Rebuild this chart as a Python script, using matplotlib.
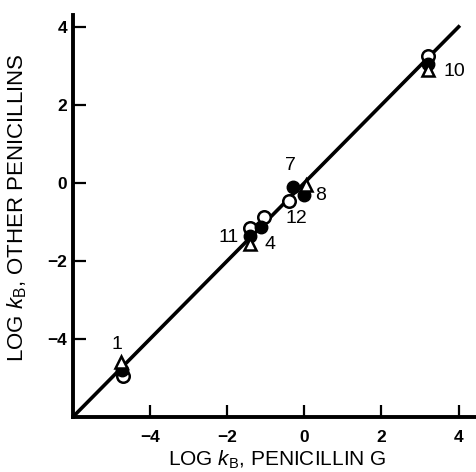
import matplotlib
matplotlib.use("Agg")
import matplotlib.pyplot as plt
import numpy as np

plt.rcParams['font.family'] = ['Liberation Sans', 'DejaVu Sans']
plt.rcParams['mathtext.fontset'] = 'custom'
plt.rcParams['mathtext.it'] = 'Liberation Sans:italic'
plt.rcParams['mathtext.rm'] = 'Liberation Sans'

# log kB values
open_x = [-4.7, -1.4, -1.05, -0.4, 3.2]
open_y = [-4.95, -1.15, -0.88, -0.47, 3.25]
filled_x = [-4.72, -1.42, -1.12, -0.3, 0.0, 3.2]
filled_y = [-4.8, -1.35, -1.12, -0.1, -0.32, 3.05]
tri_x = [-4.75, -1.42, 0.05, 3.2]
tri_y = [-4.6, -1.57, -0.05, 2.9]

# point numbers and where they are written
labels = ['1', '7', '8', '12', '11', '4', '10']
label_x = [-4.85, -0.36, 0.42, -0.2, -1.95, -0.9, 3.9]
label_y = [-4.15, 0.45, -0.33, -0.9, -1.4, -1.58, 2.85]

line_x = [-6, 4.0]

fig = plt.figure(figsize=(4.76, 4.72), dpi=100)
ax = fig.add_axes([0.153, 0.1165, 0.847, 0.8515])

ax.plot(line_x, line_x, color='black', lw=2.6, zorder=1)
ax.plot(open_x, open_y, 'o', mfc='white', mec='black', mew=1.8, ms=9, zorder=2)
ax.plot(filled_x, filled_y, 'o', mfc='black', mec='black', ms=9, zorder=3)
ax.plot(tri_x, tri_y, '^', mfc='white', mec='black', mew=1.8, ms=9, zorder=4)

for t, x, y in zip(labels, label_x, label_y):
    ax.text(x, y, t, fontsize=14, ha='center', va='center')

ax.set_xlim(-6, 4.45)
ax.set_ylim(-6, 4.3)
ax.set_xticks([-4, -2, 0, 2, 4])
ax.set_yticks([-4, -2, 0, 2, 4])
ax.set_xticklabels(['\u22124', '\u22122', '0', '2', '4'], fontsize=12.5, fontweight='bold')
ax.set_yticklabels(['\u22124', '\u22122', '0', '2', '4'], fontsize=12.5, fontweight='bold')
ax.tick_params(direction='in', length=9, width=1.6)
ax.tick_params(axis='x', pad=9)
ax.tick_params(axis='y', pad=4)

for s in ['top', 'right']:
    ax.spines[s].set_visible(False)
for s in ['left', 'bottom']:
    ax.spines[s].set_linewidth(2.8)

ax.set_xlabel(r'LOG $k_{\mathrm{B}}$, PENICILLIN G', fontsize=15)
ax.xaxis.set_label_coords(0.507, -0.08)
ax.set_ylabel(r'LOG $k_{\mathrm{B}}$, OTHER PENICILLINS', fontsize=16)
ax.yaxis.set_label_coords(-0.108, 0.52)

fig.savefig('out.png', dpi=100)
